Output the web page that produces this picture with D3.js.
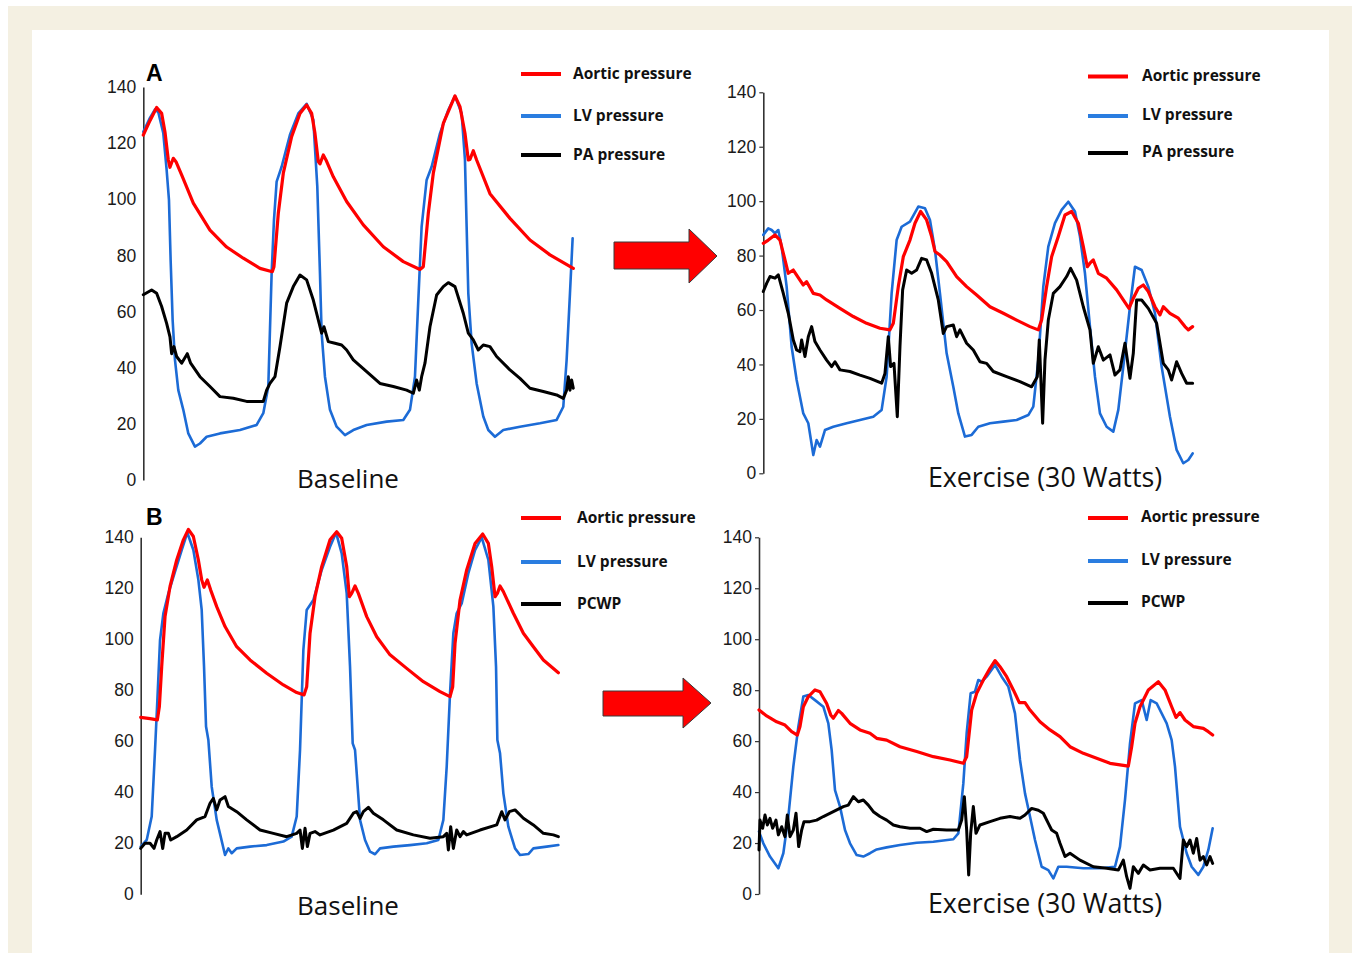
<!DOCTYPE html>
<html>
<head>
<meta charset="utf-8">
<script src="https://cdn.jsdelivr.net/npm/d3@7"></script>
<style>
  body { margin: 0; background: #fff; }
  svg { display: block; }
</style>
</head>
<body>
<div id="chart_area"></div>
<script>
// pressure traces: [sample index (500 Hz), pressure in mmHg]
const pressureTicks = [0, 20, 40, 60, 80, 100, 120, 140];
const legendA = ['Aortic pressure', 'LV pressure', 'PA pressure'];
const legendB = ['Aortic pressure', 'LV pressure', 'PCWP'];
const conditions = ['Baseline', 'Exercise (30 Watts)'];

// A - baseline
const aBaseAortic = [[0,122.9],[20,128],[40,132.7],[55,130.6],[65,124],[75,114],[80,111.4],[90,114.6],[98,113.4],[115,108.7],[150,98.6],[200,89],[250,83],[300,79],[350,75.4],[387,74.2],[392,76],[405,95],[420,109.3],[445,122.3],[470,130.6],[490,133.6],[505,130.6],[515,123.5],[525,113.4],[530,112.6],[540,115.8],[548,114],[570,108],[610,99.2],[660,90.9],[720,83.1],[780,77.8],[830,75],[840,76],[855,95],[870,109.3],[900,127],[935,136.8],[950,133],[965,123.5],[975,114],[980,114.2],[990,117.3],[1000,114],[1040,102],[1100,93.2],[1160,85.5],[1220,80.2],[1290,75.4]];
const aBaseLV = [[0,124],[20,129],[35,132],[45,131],[60,123.5],[70,110.5],[77,99.8],[82,78.4],[88,57],[95,42.8],[105,32],[120,25],[135,16.6],[155,11.9],[170,13],[190,15.4],[230,16.6],[290,17.8],[340,19.6],[360,23.8],[375,33.3],[385,73.6],[392,92.6],[400,106.3],[415,111.6],[440,123],[465,130.6],[490,134],[510,128.3],[522,104.5],[530,73.6],[535,52.3],[545,36.8],[560,25],[580,19],[605,16],[630,17.8],[670,19.6],[730,20.8],[780,21.4],[800,25],[815,36.8],[825,64],[835,90.3],[850,106.9],[865,111.6],[890,123.5],[915,131.8],[935,136.8],[955,130.6],[965,114],[970,90.3],[975,66.5],[985,48.7],[1000,34.4],[1020,22.6],[1035,17.8],[1055,15.4],[1080,17.8],[1130,19],[1190,20.2],[1240,21.4],[1260,26.1],[1270,42.8],[1280,66.5],[1288,86.1]];
const aBasePA = [[0,66],[25,67.7],[40,66.5],[55,61.8],[70,55.8],[80,51],[85,45],[92,47.5],[100,44],[115,41.6],[132,45],[142,41.6],[170,36.8],[200,33.3],[230,29.7],[270,29.1],[310,28],[360,28],[370,32],[380,34.4],[395,36.8],[410,47.5],[430,63],[450,68.9],[470,73],[490,71.3],[510,64.1],[525,57],[535,52.3],[542,54.6],[555,49.3],[575,48.7],[595,48.1],[610,46.3],[630,42.8],[670,38.6],[710,34.4],[750,33.3],[790,32],[810,30.9],[820,35.6],[828,32],[835,36.8],[845,41.6],[860,54.6],[880,65.9],[900,68.9],[915,70.3],[935,68.9],[960,59.4],[975,52.3],[990,49.9],[1005,46.3],[1020,48.1],[1040,47.5],[1060,44],[1100,39.2],[1130,36.2],[1160,32.7],[1200,31.5],[1240,30.3],[1260,29.1],[1270,32],[1275,36.8],[1280,32],[1285,35.6],[1290,32.7]];

// A - exercise
const aExAortic = [[0,84.5],[15,85.7],[35,87.6],[50,85.7],[65,78.4],[75,73.5],[90,74.7],[110,71],[120,69.2],[130,70.4],[150,66.1],[170,65.5],[190,63.7],[230,60.6],[270,57.6],[310,55.1],[350,53.3],[380,52.7],[390,55.1],[405,68.6],[420,79.6],[440,85.7],[455,91.9],[472,96.2],[490,93.1],[505,87],[515,81.5],[530,80.2],[550,77.8],[580,72.3],[610,68.6],[640,65.5],[680,61.2],[720,58.8],[760,56.3],[800,53.9],[825,52.7],[835,56.3],[850,68.6],[865,79.6],[885,87],[905,94.9],[925,96.2],[945,91.9],[960,83.3],[972,75.9],[980,77.2],[990,78.4],[1005,73.5],[1030,71.7],[1060,67.4],[1080,63.7],[1097,60.6],[1110,64.3],[1125,68],[1140,69.2],[1155,66.8],[1175,61.2],[1190,58.2],[1200,61.2],[1220,58.8],[1245,57],[1265,53.9],[1275,52.7],[1288,53.9]];
const aExLV = [[0,87.6],[15,90],[25,89.4],[35,88.2],[45,89.4],[55,83.3],[70,68.6],[85,46.5],[100,34.3],[120,22],[135,18.4],[150,6.7],[160,12.2],[170,9.8],[185,15.9],[210,17.1],[250,18.4],[290,19.6],[330,20.8],[355,23.3],[370,35.5],[385,66.1],[400,85.7],[415,90.6],[440,92.5],[465,98],[485,97.4],[500,93.1],[515,82.1],[530,66.1],[550,44.1],[570,31.8],[585,22],[605,13.5],[625,14.1],[645,17.1],[680,18.4],[720,19],[760,19.6],[795,21.4],[810,24.5],[825,41.6],[840,68.6],[855,83.3],[875,91.9],[895,96.8],[915,99.8],[935,96.2],[950,87],[965,73.5],[980,53.9],[995,35.5],[1010,22],[1030,17.1],[1050,15.3],[1065,23.3],[1080,39.2],[1100,61.2],[1115,75.9],[1135,74.7],[1155,68.6],[1175,58.8],[1195,39.2],[1220,20.8],[1240,8.6],[1260,3.7],[1275,4.9],[1288,7.3]];
const aExPA = [[0,66.8],[10,69.8],[20,72.3],[35,71.7],[45,72.9],[60,66.1],[75,58.8],[90,49],[100,45.3],[110,44.7],[115,49],[125,42.9],[135,50.2],[145,53.9],[155,48.4],[170,45.3],[190,41.6],[205,39.2],[215,41],[230,38],[260,37.4],[290,36.1],[320,34.9],[355,33.1],[365,36.7],[375,50.2],[382,39.2],[392,40.4],[402,20.8],[410,46.5],[418,67.4],[430,74.7],[445,73.5],[460,74.7],[475,79],[490,78.4],[505,73.5],[525,63.7],[540,51.4],[550,53.9],[570,54.5],[580,50.2],[590,52.7],[610,47.8],[630,45.3],[650,41],[670,40.4],[690,37.4],[730,35.5],[770,33.7],[805,31.8],[822,35.5],[828,49],[838,18.4],[845,41.6],[855,56.3],[870,66.1],[890,68.6],[910,72.3],[922,75.3],[940,71],[960,61.2],[980,52.7],[990,40.4],[1005,46.5],[1020,41.6],[1040,43.5],[1055,36.1],[1070,38],[1085,47.8],[1100,34.9],[1110,44.1],[1120,63.7],[1135,63.7],[1155,60.6],[1180,55.1],[1200,40.4],[1215,38],[1225,34.3],[1240,41],[1255,36.7],[1270,33.1],[1288,33.1]];

// B - baseline
const bBaseAortic = [[0,69.4],[28,68.9],[50,68.4],[56,73.6],[63,89.3],[73,108.9],[88,120.7],[108,131.1],[128,139],[143,143.1],[158,140.3],[173,131.1],[183,123.3],[190,120.4],[200,123.3],[210,119.3],[228,112.8],[253,105],[288,97.1],[328,91.9],[378,86.7],[428,82.1],[468,79.1],[490,78.2],[498,81.4],[508,102.4],[523,116.7],[543,128.5],[568,139],[588,142.2],[603,139.6],[618,128.5],[626,116.7],[633,118],[643,120.9],[653,118],[678,108.9],[708,101],[748,93.9],[798,88.6],[848,83.4],[898,79.5],[928,77.5],[936,81.4],[943,98.4],[958,115.4],[978,127.2],[1003,137.6],[1026,141.3],[1043,137.6],[1053,128.5],[1063,116.7],[1070,118],[1078,120.9],[1088,118.7],[1118,110.2],[1148,102.4],[1178,97.1],[1208,91.9],[1253,86.9]];
const bBaseLV = [[0,18.7],[18,21.3],[33,30.5],[43,56.6],[50,76.2],[58,99.7],[68,110.2],[83,118],[103,126.5],[123,135],[140,141.8],[158,135],[173,123.3],[183,111.5],[190,89.3],[196,65.8],[203,60.5],[213,42.2],[228,29.2],[240,22.6],[253,15.4],[263,18],[273,16.1],[288,18],[328,18.7],[378,19.3],[428,20.7],[453,22.6],[468,30.5],[478,56.6],[488,95.8],[498,111.5],[518,115.4],[543,127.2],[568,136.3],[586,141.8],[603,133.7],[618,118],[628,89.3],[636,59.2],[643,56.6],[648,47.5],[658,29.2],[673,21.3],[688,16.7],[703,15.7],[718,18],[758,18.7],[808,19.3],[858,20],[893,21.3],[908,29.2],[918,50.1],[928,78.8],[938,102.4],[948,110.2],[963,114.1],[983,125.9],[1003,135],[1023,140],[1043,131.1],[1058,112.8],[1066,89.3],[1070,60.5],[1078,55.3],[1088,39.6],[1103,26.5],[1123,18],[1138,15.4],[1163,15.8],[1178,18],[1218,18.7],[1253,19.3]];
const bBasePCWP = [[0,18],[13,20],[28,20],[40,18],[48,21.3],[58,24.6],[66,18],[73,23.9],[83,23.9],[90,21.3],[108,22.6],[138,25.2],[168,29.2],[193,30.5],[208,35.7],[218,37.6],[228,33.1],[238,37],[253,38.3],[263,34.4],[288,32.4],[318,29.2],[358,25.2],[398,23.9],[438,22.6],[468,23.9],[478,25.2],[485,18],[493,25.9],[500,18.7],[508,23.9],[523,24.6],[538,23.3],[578,25.2],[618,27.8],[638,31.8],[648,32.4],[658,29.8],[668,32.4],[683,34.1],[698,31.8],[728,29.2],[768,25.2],[818,23.3],[868,22],[908,22.6],[918,23.9],[923,17.4],[930,26.5],[938,18],[948,25.2],[958,22.6],[968,24.6],[978,23.3],[1018,25.2],[1068,27.2],[1083,32.4],[1093,29.2],[1106,32.4],[1123,33.1],[1148,29.8],[1178,27.2],[1208,23.9],[1238,23.3],[1253,22.6]];

// B - exercise
const bExAortic = [[0,72.2],[23,69.9],[53,67.6],[78,66.3],[98,63.7],[115,62.4],[123,65.7],[133,73.5],[148,77.5],[168,80.1],[183,79.4],[203,74.8],[215,70.3],[223,69],[238,72],[248,70.9],[273,67],[303,64.4],[333,63.1],[353,61.1],[383,60.4],[423,57.8],[473,55.9],[523,53.9],[573,52.6],[613,51.3],[623,53.9],[638,72.2],[653,78.8],[673,84],[693,88.6],[708,91.6],[723,89.2],[743,85.3],[763,80.1],[781,75.1],[798,75.1],[813,72.2],[843,67.6],[873,64.4],[903,61.8],[933,57.8],[973,55.2],[1013,53.3],[1053,51.3],[1108,50.2],[1118,57.8],[1128,67],[1143,73.5],[1168,80.1],[1198,83.3],[1218,80.1],[1238,73.5],[1251,69.3],[1263,71.2],[1278,68.3],[1303,65.7],[1333,65],[1348,63.7],[1361,62.4]];
const bExLV = [[0,24.5],[13,19.9],[33,14.7],[58,10.1],[73,16],[88,30.4],[103,50],[118,65.7],[133,77.5],[148,78.1],[168,76.1],[193,73.5],[208,67],[218,56.5],[228,40.8],[243,34.3],[258,25.1],[273,19.9],[293,15.3],[313,14.7],[333,16],[353,17.5],[383,18.3],[423,19.2],[473,20.1],[523,20.5],[583,21.5],[598,23.8],[613,43.4],[623,63.1],[635,78.8],[648,79.4],[658,84],[668,83.3],[683,85.3],[708,89.9],[728,85.3],[748,81.4],[768,70.9],[783,52.6],[798,39.5],[813,30.4],[828,21.2],[848,10.7],[868,9.4],[883,6.1],[898,10.7],[923,10.7],[973,10.1],[1023,10.1],[1068,10.7],[1083,18.6],[1098,36.9],[1113,59.1],[1128,74.8],[1148,76.1],[1163,68.3],[1175,76.1],[1193,74.8],[1208,70.9],[1223,67],[1238,60.4],[1248,50],[1263,26.4],[1283,16],[1298,10.7],[1318,7.5],[1333,10.7],[1348,17.3],[1361,25.8]];
const bExPCWP = [[0,17.3],[3,29],[11,25.8],[18,31],[25,27.1],[33,29.7],[41,25.8],[51,29],[58,23.2],[68,26.4],[78,22.5],[85,31],[93,22.5],[103,25.1],[111,31.7],[119,18.6],[128,25.1],[135,28.4],[153,28.4],[173,29],[193,30.4],[223,32.3],[253,34.3],[268,34.9],[283,38.2],[298,36.2],[313,36.9],[328,34.9],[343,32.3],[363,30.4],[383,29],[403,27.1],[423,26.4],[453,25.8],[483,25.8],[503,24.5],[523,25.4],[563,25.1],[598,25.1],[608,29],[616,38.2],[623,25.1],[629,7.5],[635,23.8],[643,34.3],[651,23.8],[663,27.1],[693,28.4],[723,29.7],[753,30.4],[783,29.7],[798,31],[818,33.6],[838,32.9],[853,31.7],[868,27.7],[878,25.1],[893,23.8],[903,19.9],[918,14.7],[933,16],[963,13.3],[1003,10.7],[1043,10.1],[1078,9.4],[1093,13.3],[1103,6.8],[1113,2.2],[1123,10.7],[1138,8.1],[1153,11.4],[1173,9.4],[1203,10.1],[1243,10.1],[1263,6.1],[1273,21.2],[1283,18.6],[1293,21.2],[1303,16],[1313,21.8],[1323,13.3],[1333,14.7],[1343,11.4],[1353,14.7],[1361,12]];

// layout
const W = 1356, H = 953;
const pxPerSample = 1 / 3;
const colors = { aortic: '#ff0000', lv: '#1c6bd6', third: '#000000' };

const panels = [
  { letter: 'A', cond: conditions[0], legend: legendA, series: [aBaseAortic, aBaseLV, aBasePA],
    left: 143.3, yTop: 87, yBottom: 480, tick: 0, legX: 521, legY: [74, 116, 155], legDy: 4.5, textX: 573,
    labelX: 348, labelY: 488, labelSize: 26, letterY: 81 },
  { cond: conditions[1], legend: legendA, series: [aExAortic, aExLV, aExPA],
    left: 763.3, yTop: 92.3, yBottom: 473.3, tick: 4, legX: 1088, legY: [76.5, 116, 153], legDy: 4, textX: 1142,
    labelX: 1045, labelY: 487, labelSize: 26.8 },
  { letter: 'B', cond: conditions[0], legend: legendB, series: [bBaseAortic, bBaseLV, bBasePCWP],
    left: 140.7, yTop: 537.3, yBottom: 894.3, tick: 0, legX: 521, legY: [518, 562, 604], legDy: 4.5, textX: 577,
    labelX: 348, labelY: 915, labelSize: 26, letterY: 525 },
  { cond: conditions[1], legend: legendB, series: [bExAortic, bExLV, bExPCWP],
    left: 759, yTop: 537.3, yBottom: 894, tick: 4, legX: 1088, legY: [518, 561, 603], legDy: 4, textX: 1141,
    labelX: 1045, labelY: 913, labelSize: 26.8 }
];

const svg = d3.select('#chart_area')
  .append('svg')
  .attr('width', W)
  .attr('height', H);

// beige frame
svg.append('rect').attr('x', 8).attr('y', 6).attr('width', 1344).attr('height', H).attr('fill', '#f4f0e2');
svg.append('rect').attr('x', 32).attr('y', 30).attr('width', 1297).attr('height', H).attr('fill', '#ffffff');

// red arrows between panels
function arrow(x0, x1, xTip, bodyTop, bodyBot, headTop, headBot) {
  const yMid = (headTop + headBot) / 2;
  return 'M' + x0 + ',' + bodyTop + 'L' + x1 + ',' + bodyTop + 'L' + x1 + ',' + headTop +
    'L' + xTip + ',' + yMid + 'L' + x1 + ',' + headBot + 'L' + x1 + ',' + bodyBot +
    'L' + x0 + ',' + bodyBot + 'Z';
}
svg.append('path').attr('d', arrow(614, 689, 717, 242, 269, 229, 283))
  .attr('fill', '#ff0000').attr('stroke', '#3a3a3a').attr('stroke-width', 1);
svg.append('path').attr('d', arrow(603, 683, 711, 691, 716, 678, 728))
  .attr('fill', '#ff0000').attr('stroke', '#3a3a3a').attr('stroke-width', 1);

panels.forEach(function(p) {
  const g = svg.append('g');
  const n = d3.max(p.series, function(s) { return d3.max(s, function(d) { return d[0]; }); });
  const x = d3.scaleLinear().domain([0, n]).range([p.left, p.left + n * pxPerSample]);
  const y = d3.scaleLinear().domain([0, 140]).range([p.yBottom, p.yTop]);

  // y axis
  const axis = g.append('g')
    .attr('transform', 'translate(' + p.left + ',0)')
    .call(d3.axisLeft(y).tickValues(pressureTicks).tickSize(p.tick).tickSizeOuter(0)
      .tickPadding(p.tick ? 3 : 7).tickFormat(d3.format('d')));
  axis.select('.domain').attr('stroke', '#333').attr('stroke-width', 1.6);
  axis.selectAll('.tick line').attr('stroke', '#333').attr('stroke-width', 1.2);
  axis.selectAll('.tick text')
    .attr('font-family', '"Liberation Sans", Arial, sans-serif')
    .attr('font-size', '17.5px')
    .attr('fill', '#1a1a1a');

  // traces: LV, then PA/PCWP, then aortic on top
  const line = d3.line()
    .x(function(d) { return x(d[0]); })
    .y(function(d) { return y(d[1]); });
  const order = [
    { data: p.series[1], color: colors.lv, w: 2.6 },
    { data: p.series[2], color: colors.third, w: 3 },
    { data: p.series[0], color: colors.aortic, w: 3.2 }
  ];
  order.forEach(function(s) {
    g.append('path')
      .datum(s.data)
      .attr('d', line)
      .attr('fill', 'none')
      .attr('stroke', s.color)
      .attr('stroke-width', s.w)
      .attr('stroke-linejoin', 'round')
      .attr('stroke-linecap', 'round');
  });

  // legend
  const legColors = [colors.aortic, '#2a7de0', colors.third];
  p.legend.forEach(function(name, i) {
    g.append('line')
      .attr('x1', p.legX).attr('x2', p.legX + 40)
      .attr('y1', p.legY[i]).attr('y2', p.legY[i])
      .attr('stroke', legColors[i])
      .attr('stroke-width', 4);
    g.append('text')
      .attr('x', p.textX)
      .attr('y', p.legY[i] + p.legDy)
      .attr('font-family', '"Open Sans", sans-serif')
      .attr('font-weight', 'bold')
      .attr('font-size', '15.5px')
      .attr('fill', '#111')
      .text(name);
  });

  // condition label
  g.append('text')
    .attr('x', p.labelX)
    .attr('y', p.labelY)
    .attr('text-anchor', 'middle')
    .attr('font-family', '"Open Sans", sans-serif')
    .attr('font-size', p.labelSize + 'px')
    .attr('fill', '#111')
    .text(p.cond);

  if (p.letter) {
    g.append('text')
      .attr('x', 146)
      .attr('y', p.letterY)
      .attr('font-family', '"Liberation Sans", Arial, sans-serif')
      .attr('font-weight', 'bold')
      .attr('font-size', '23px')
      .attr('fill', '#000')
      .text(p.letter);
  }
});
</script>
</body>
</html>
